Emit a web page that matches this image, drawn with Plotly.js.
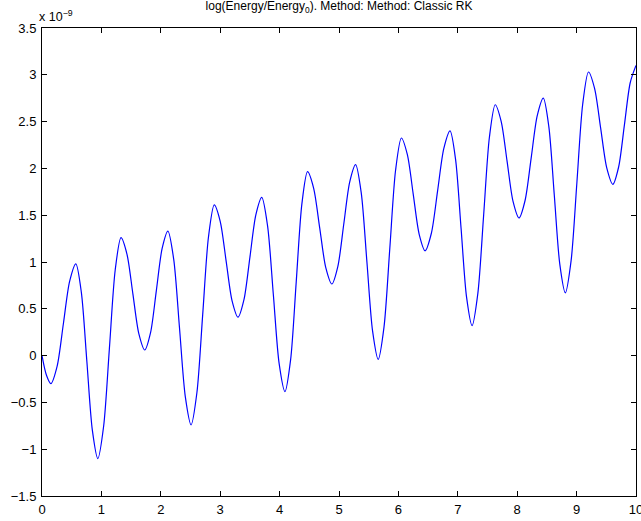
<!DOCTYPE html>
<html>
<head>
<meta charset="utf-8">
<script src="https://cdn.plot.ly/plotly-3.0.1.min.js"></script>
<style>html,body{margin:0;padding:0;background:#fff;}#chart{width:641px;height:521px;}</style>
</head>
<body>
<div id="chart"></div>
<script>
// time values (x) and log(Energy/Energy0) in units of 1e-9 (y)
var timeVals = [
  0, 0.075, 0.15,
  0.255, 0.36, 0.465, 0.57,
  0.6625, 0.755, 0.8475, 0.94,
  1.0375, 1.135, 1.2325, 1.33,
  1.43, 1.53, 1.63, 1.73,
  1.8275, 1.925, 2.0225, 2.12,
  2.2175, 2.315, 2.4125, 2.51,
  2.6075, 2.705, 2.8025, 2.9,
  3.0, 3.1, 3.2, 3.30,
  3.4, 3.5, 3.6, 3.70,
  3.7975, 3.895, 3.9925, 4.09,
  4.185, 4.28, 4.375, 4.47,
  4.5725, 4.675, 4.7775, 4.88,
  4.98, 5.08, 5.18, 5.28,
  5.375, 5.47, 5.565, 5.66,
  5.7575, 5.855, 5.9525, 6.05,
  6.15, 6.25, 6.35, 6.45,
  6.555, 6.66, 6.765, 6.87,
  6.9625, 7.055, 7.1475, 7.24,
  7.3375, 7.435, 7.5325, 7.63,
  7.73, 7.83, 7.93, 8.03,
  8.1325, 8.235, 8.3375, 8.44,
  8.5325, 8.625, 8.7175, 8.81,
  8.9075, 9.005, 9.1025, 9.20,
  9.3025, 9.405, 9.5075, 9.61,
  9.7075, 9.805, 9.9025, 10
];
var energyLog = [
  0, -0.21, -0.30,
  -0.113, 0.34, 0.793, 0.98,
  0.676, -0.06, -0.796, -1.10,
  -0.755, 0.08, 0.915, 1.26,
  1.085, 0.66, 0.235, 0.06,
  0.245, 0.695, 1.145, 1.33,
  1.028, 0.295, -0.438, -0.74,
  -0.397, 0.435, 1.267, 1.61,
  1.435, 1.01, 0.585, 0.41,
  0.597, 1.05, 1.503, 1.69,
  1.386, 0.65, -0.086, -0.385,
  -0.046, 0.788, 1.621, 1.965,
  1.79, 1.365, 0.94, 0.765,
  0.951, 1.403, 1.854, 2.04,
  1.736, 1.00, 0.264, -0.04,
  0.305, 1.143, 1.98, 2.325,
  2.149, 1.723, 1.296, 1.12,
  1.307, 1.76, 2.213, 2.40,
  2.096, 1.36, 0.624, 0.32,
  0.665, 1.50, 2.335, 2.68,
  2.503, 2.075, 1.647, 1.47,
  1.657, 2.11, 2.563, 2.75,
  2.446, 1.71, 0.974, 0.67,
  1.015, 1.85, 2.685, 3.03,
  2.855, 2.43, 2.005, 1.83,
  2.015, 2.465, 2.915, 3.10
];
var xTicks = [0,1,2,3,4,5,6,7,8,9,10];
var yTicks = [-1.5,-1,-0.5,0,0.5,1,1.5,2,2.5,3,3.5];
var yTickText = ['\u22121.5','\u22121','\u22120.5','0','0.5','1','1.5','2','2.5','3','3.5'];
var titleText = 'log(Energy/Energy<sub>0</sub>). Method: Method: Classic RK';
var scaleText = 'x 10<sup>\u22129</sup>';

var font = 'Liberation Sans, Arial, Helvetica, sans-serif';
var trace = {
  x: timeVals, y: energyLog, type: 'scatter', mode: 'lines',
  line: {color: '#0000ff', width: 1.2, shape: 'spline', smoothing: 0.8},
  hoverinfo: 'none'
};
var axisCommon = {
  showline: true, linecolor: '#000', linewidth: 1, mirror: 'ticks',
  ticks: 'inside', ticklen: 5, tickcolor: '#000', tickwidth: 1,
  showgrid: false, zeroline: false,
  tickfont: {family: font, size: 13, color: '#000'}
};
var layout = {
  width: 641, height: 521,
  margin: {l: 42, r: 5, t: 28, b: 25},
  paper_bgcolor: '#fff', plot_bgcolor: '#fff',
  showlegend: false,
  title: {text: titleText, font: {family: font, size: 12, color: '#000'}, x: 0.5, xref: 'paper', y: 1, yref: 'container', yanchor: 'top', pad: {t: 2}},
  xaxis: Object.assign({}, axisCommon, {range: [0, 10], tickvals: xTicks, ticktext: xTicks.map(String), ticklabelstandoff: 1, ticklabeloverflow: 'allow'}),
  yaxis: Object.assign({}, axisCommon, {range: [-1.5, 3.5], tickvals: yTicks, ticktext: yTickText, ticklabelstandoff: 2, ticklabeloverflow: 'allow'}),
  annotations: [{text: scaleText, xref: 'paper', yref: 'paper', x: 0, y: 1, xanchor: 'left', yanchor: 'bottom', xshift: -5, yshift: 2, showarrow: false, font: {family: font, size: 12.5, color: '#000'}}]
};
Plotly.newPlot('chart', [trace], layout, {staticPlot: true, displayModeBar: false});
</script>
</body>
</html>
